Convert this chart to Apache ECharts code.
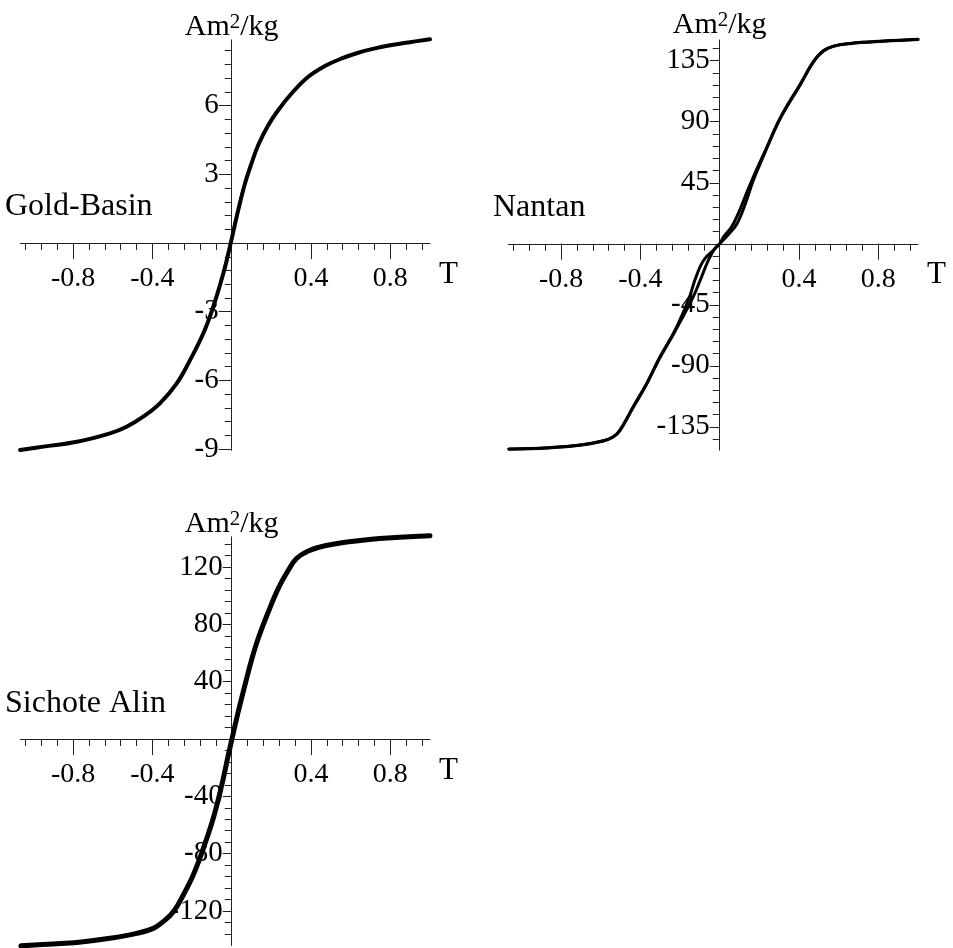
<!DOCTYPE html>
<html><head><meta charset="utf-8">
<script src="https://cdn.jsdelivr.net/npm/echarts@6/dist/echarts.min.js"></script>
<style>html,body{margin:0;padding:0;background:#fff}#c{width:953px;height:948px}</style>
</head><body><div id="c"></div>
<script>
// ---------- labels ----------
const panelNames = ['Gold-Basin', 'Nantan', 'Sichote Alin'];
const fieldUnit = 'T';
const momentUnit = '{a|Am}{s|2}{a|/kg}';

// ---------- tick labels ----------
const fieldTicks = [-0.8, -0.4, 0.4, 0.8];
const goldTicks = [-9, -6, -3, 3, 6];
const nantanTicks = [-135, -90, -45, 45, 90, 135];
const sichoteTicks = [-120, -80, -40, 40, 80, 120];

// ---------- axis ranges ----------
const fieldRange = [-1.065, 1.0];
const goldRange = [-9.05, 8.87];
const nantanRange = [-152.2, 150.3];
const sichoteRange = [-144.0, 141.1];

// ---------- data: Gold-Basin ----------
const goldField = [-1.067, -0.95, -0.78, -0.614, -0.53, -0.446, -0.362, -0.277, -0.21, -0.143, -0.093, -0.042, -0.009,
  0.033, 0.067, 0.10, 0.134, 0.185, 0.235, 0.303, 0.386, 0.47, 0.555, 0.638, 0.723, 0.807, 0.89, 1.0];
const goldMoment = [-9.04, -8.89, -8.68, -8.31, -8.02, -7.58, -7.0, -6.13, -5.11, -3.94, -2.78, -1.32, -0.16,
  1.44, 2.6, 3.48, 4.28, 5.15, 5.81, 6.54, 7.26, 7.73, 8.06, 8.31, 8.50, 8.65, 8.76, 8.9];

// ---------- data: Nantan (descending and ascending branches) ----------
const nantanDownField = [1.0, 0.825, 0.657, 0.573, 0.522, 0.48, 0.405, 0.304, 0.237, 0.17, 0.128, 0.094, 0.06, 0.018, 0,
  -0.04, -0.074, -0.099, -0.125, -0.158, -0.225, -0.301, -0.368, -0.436, -0.503, -0.537, -0.587, -0.705, -0.872, -1.063];
const nantanDownMoment = [150.8, 149.5, 147.8, 145.8, 142.4, 135.6, 117.5, 92.5, 71, 49.4, 34.7, 22.4, 12.5, 4.7, 0,
  -5.9, -10.8, -17, -26.8, -41.5, -63.7, -83.4, -103, -120.2, -137.4, -142.4, -145.3, -148.5, -150.5, -151.4];
const nantanUpField = [-1.063, -0.872, -0.705, -0.587, -0.537, -0.503, -0.436, -0.368, -0.301, -0.225, -0.133, -0.091, -0.057, -0.024, 0,
  0.052, 0.086, 0.111, 0.136, 0.17, 0.212, 0.304, 0.405, 0.472, 0.522, 0.573, 0.657, 0.825, 1.0];
const nantanUpMoment = [-151.6, -150.7, -148.7, -145.5, -142.6, -137.8, -120.6, -103.4, -84, -64.5, -39, -24.3, -12, -3.4, 0,
  8.1, 14.5, 22.4, 32.2, 47, 61.7, 92, 117, 134.3, 142, 145.6, 147.6, 149.3, 150.6];

// ---------- data: Sichote Alin ----------
const sichoteField = [-1.063, -0.9, -0.78, -0.614, -0.479, -0.395, -0.345, -0.294, -0.244, -0.194, -0.143, -0.093, -0.05, -0.017,
  0.033, 0.067, 0.10, 0.134, 0.185, 0.235, 0.286, 0.328, 0.386, 0.47, 0.638, 0.807, 1.0];
const sichoteMoment = [-144.3, -143, -141.9, -139, -135.6, -132.1, -127.4, -120.5, -108.8, -94.9, -76.3, -55.3, -32.1, -11.2,
  19, 37.7, 55.1, 70.3, 88.8, 105.1, 117.9, 126.1, 131.2, 134.9, 138.4, 140.4, 141.8];

// ---------- minor tick positions ----------
function steps(a, step, b) { const o = []; for (let v = a; v <= b + step / 1000; v += step) o.push(Math.round(v * 1000) / 1000); return o; }
const fieldMinor = steps(-1.04, 0.08, 0.96);
const goldMinor = steps(-9, 0.6, 8.4);
const nantanMinor = steps(-144, 9, 144);
const sichoteMinor = steps(-136, 8, 136);

function zip(xs, ys) { return xs.map((x, i) => [x, ys[i]]); }

const FONT = 'Liberation Serif';
const AX = '#222';

// layout of the three panels (pixels)
const grids = [
  { left: 20.5, top: 39.9, width: 409.5, height: 410.4 },
  { left: 508.5, top: 40.0, width: 409.5, height: 410.1 },
  { left: 20.5, top: 536.8, width: 409.5, height: 408.6 }
];
const yLabelMargins = [13, 10, 9];
const yRanges = [goldRange, nantanRange, sichoteRange];
const yMajors = [goldTicks, nantanTicks, sichoteTicks];
const yMinors = [goldMinor, nantanMinor, sichoteMinor];

const xAxes = [], yAxes = [];
grids.forEach((g, i) => {
  const yr = yRanges[i];
  // move axes from the grid edge to the zero crossing of the other axis
  const xOff = -g.height * (0 - yr[0]) / (yr[1] - yr[0]);
  const yOff = -g.width * (0 - fieldRange[0]) / (fieldRange[1] - fieldRange[0]);
  xAxes.push({
    type: 'value', gridIndex: i, min: fieldRange[0], max: fieldRange[1], position: 'bottom', offset: xOff,
    axisLine: { show: true, onZero: false, lineStyle: { color: AX, width: 1 } },
    axisTick: { show: true, customValues: fieldTicks, length: 16, lineStyle: { color: AX, width: 1 } },
    axisLabel: { show: true, customValues: fieldTicks, margin: 22, color: '#000', fontSize: 28, fontFamily: FONT },
    splitLine: { show: false },
    name: fieldUnit, nameLocation: 'end', nameGap: 9,
    nameTextStyle: { color: '#000', fontSize: 31, fontFamily: FONT, verticalAlign: 'top', padding: [16, 0, 0, 0] }
  });
  xAxes.push({
    type: 'value', gridIndex: i, min: fieldRange[0], max: fieldRange[1], position: 'bottom', offset: xOff,
    axisLine: { show: false, onZero: false },
    axisTick: { show: true, customValues: fieldMinor, length: 7, lineStyle: { color: AX, width: 1 } },
    axisLabel: { show: false }, splitLine: { show: false }
  });
  yAxes.push({
    type: 'value', gridIndex: i, min: yr[0], max: yr[1], position: 'left', offset: yOff,
    axisLine: { show: true, onZero: false, lineStyle: { color: AX, width: 1 } },
    axisTick: { show: true, customValues: yMajors[i], length: yLabelMargins[i], lineStyle: { color: AX, width: 1 } },
    axisLabel: { show: true, customValues: yMajors[i], margin: yLabelMargins[i], color: '#000', fontSize: 29, fontFamily: FONT, padding: [3, 0, 0, 0] },
    splitLine: { show: false },
    name: momentUnit, nameLocation: 'end', nameGap: -2,
    nameTextStyle: {
      color: '#000', fontSize: 30, fontFamily: FONT,
      rich: {
        a: { color: '#000', fontSize: 30, lineHeight: 30, fontFamily: FONT, verticalAlign: 'bottom', padding: [7, 0, 0, 0] },
        s: { color: '#000', fontSize: 21, lineHeight: 21, fontFamily: FONT, verticalAlign: 'top', padding: [0, 0, 15, 0] }
      }
    }
  });
  yAxes.push({
    type: 'value', gridIndex: i, min: yr[0], max: yr[1], position: 'left', offset: yOff,
    axisLine: { show: false, onZero: false },
    axisTick: { show: true, customValues: yMinors[i], length: 7, lineStyle: { color: AX, width: 1 } },
    axisLabel: { show: false }, splitLine: { show: false }
  });
});

function curve(gridIdx, data, width) {
  return {
    type: 'line', xAxisIndex: gridIdx * 2, yAxisIndex: gridIdx * 2, data: data,
    showSymbol: false, symbol: 'none', smooth: 0.4, clip: false,
    lineStyle: { color: '#000', width: width, cap: 'round', join: 'round' }, silent: true, animation: false
  };
}

const titleStyle = { color: '#000', fontSize: 32, fontWeight: 'normal', fontFamily: FONT };
const option = {
  animation: false,
  backgroundColor: '#fff',
  title: [
    { text: panelNames[0], left: 5, top: 191, padding: 0, textStyle: titleStyle },
    { text: panelNames[1], left: 493, top: 192, padding: 0, textStyle: titleStyle },
    { text: panelNames[2], left: 5, top: 688, padding: 0, textStyle: titleStyle }
  ],
  grid: grids.map(g => Object.assign({ containLabel: false, outerBoundsMode: 'none' }, g)),
  xAxis: xAxes,
  yAxis: yAxes,
  series: [
    curve(0, zip(goldField, goldMoment), 4),
    curve(1, zip(nantanDownField, nantanDownMoment), 3),
    curve(1, zip(nantanUpField, nantanUpMoment), 3),
    curve(2, zip(sichoteField, sichoteMoment), 5)
  ]
};
const chart = echarts.init(document.getElementById('c'), null, { renderer: 'canvas' });
chart.setOption(option);
</script></body></html>
